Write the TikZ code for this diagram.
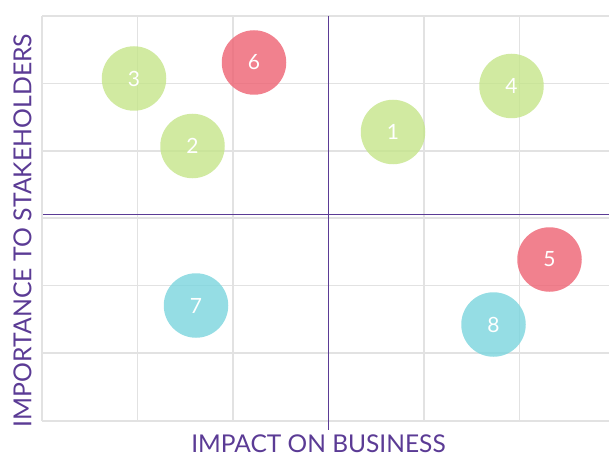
\documentclass[tikz,border=0pt]{standalone}
\usepackage{fontspec}
\setmainfont{Lato}
\definecolor{gridgray}{HTML}{E2E2E2}
\definecolor{axispurple}{HTML}{5B3B95}
\definecolor{bgreen}{HTML}{C5E58A}
\definecolor{bred}{HTML}{EE6272}
\definecolor{bcyan}{HTML}{7AD5DD}
\begin{document}
\begin{tikzpicture}[x=1pt,y=-1pt,
  gridline/.style={draw=gridgray,line width=1.4pt},
  axisline/.style={draw=axispurple,line width=1.1pt},
  axislabel/.style={text=axispurple,inner sep=0pt},
  bubble/.style={circle,minimum size=64.5pt,inner sep=0pt,text=white,
    font=\fontsize{21}{21}\selectfont,fill opacity=0.8,text opacity=1},
  greenb/.style={bubble,fill=bgreen},
  redb/.style={bubble,fill=bred},
  cyanb/.style={bubble,fill=bcyan}]
\useasboundingbox (0,0) rectangle (609,457);
% grid
\foreach \x in {42,137.5,233,328.5,424,519.5}
  \draw[gridline] (\x,16) -- (\x,421);
\foreach \y in {16,83.5,151,218,285.5,353,421}
  \draw[gridline] (42,\y) -- (609,\y);
% axes
\coordinate (vtop) at (328.5,16);
\coordinate (vbot) at (328.5,430);
\coordinate (hleft) at (43,214.8);
\coordinate (hright) at (609,214.8);
\draw[axisline] (vtop) -- (vbot);
\draw[axisline] (hleft) -- (hright);
% bubbles
\node[greenb] (b1) at (393,132) {1};
\node[greenb] (b2) at (192.5,146) {2};
\node[greenb] (b3) at (134,78.5) {3};
\node[greenb] (b4) at (511.5,86) {4};
\node[redb] (b5) at (549.5,259.5) {5};
\node[redb] (b6) at (254,62.5) {6};
\node[cyanb] (b7) at (196,305.5) {7};
\node[cyanb] (b8) at (493.5,324.5) {8};
% labels
\node[axislabel,font=\fontsize{24.5}{24.5}\selectfont] (xlab) at (318.5,444) {IMPACT ON BUSINESS};
\node[axislabel,font=\fontsize{24.8}{24.8}\selectfont,rotate=90] (ylab) at (22.5,230.5) {IMPORTANCE TO STAKEHOLDERS};
\end{tikzpicture}
\end{document}
